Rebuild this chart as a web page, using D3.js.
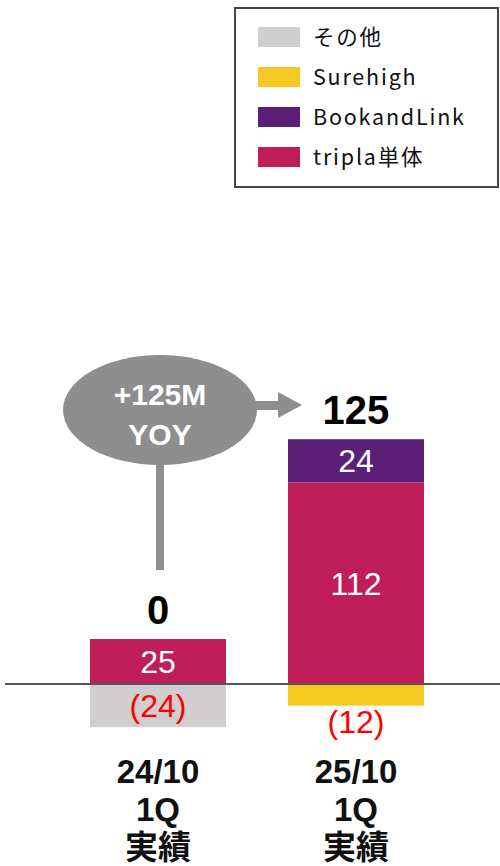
<!DOCTYPE html>
<html>
<head>
<meta charset="utf-8">
<script src="https://cdn.jsdelivr.net/npm/d3@7"></script>
<style>
  body { margin: 0; background: #fff; }
  svg { display: block; }
</style>
</head>
<body>
<div id="chart"></div>
<script>
// chart data
var categories = ["24/10", "25/10"];
var catLines = [["24/10", "1Q", "実績"], ["25/10", "1Q", "実績"]];
var seriesNames = ["その他", "Surehigh", "BookandLink", "tripla単体"];
var seriesColors = ["#D0CECF", "#F5C922", "#5C1F76", "#C01E58"];
var sonota = [-24, 0];
var surehigh = [0, -12];
var bookandlink = [0, 24];
var triplaSolo = [25, 112];
var totals = [0, 125];
var yoyText = ["+125M", "YOY"];

var width = 500, height = 866;

var svg = d3.select("#chart").append("svg")
  .attr("width", width)
  .attr("height", height);

var x = d3.scaleBand()
  .domain(categories)
  .range([90, 424])
  .paddingInner(0.313)
  .paddingOuter(0);

var y = d3.scaleLinear()
  .domain([-30, 140])
  .range([738, 432]);

// stack positives up from 0, negatives down from 0
var seriesVals = [sonota, surehigh, bookandlink, triplaSolo];
var order = [3, 2, 0, 1]; // tripla first on the positive side
var segs = [];
categories.forEach(function(c, i) {
  var pos = 0, neg = 0;
  order.forEach(function(s) {
    var v = seriesVals[s][i];
    if (v === 0) return;
    var y0, y1;
    if (v > 0) { y0 = pos; y1 = pos + v; pos = y1; }
    else { y0 = neg; y1 = neg + v; neg = y1; }
    segs.push({cat: c, i: i, s: s, v: v, y0: y0, y1: y1});
  });
});

svg.selectAll(".seg")
  .data(segs)
  .enter().append("rect")
  .attr("class", "seg")
  .attr("x", function(d) { return x(d.cat); })
  .attr("width", x.bandwidth())
  .attr("y", function(d) { return y(Math.max(d.y0, d.y1)); })
  .attr("height", function(d) { return Math.abs(y(d.y0) - y(d.y1)); })
  .attr("fill", function(d) { return seriesColors[d.s]; });

// segment labels
svg.selectAll(".seglabel")
  .data(segs)
  .enter().append("text")
  .attr("class", "seglabel")
  .attr("x", function(d) { return x(d.cat) + x.bandwidth() / 2; })
  .attr("y", function(d) {
    var h = Math.abs(y(d.y0) - y(d.y1));
    if (d.v < 0 && h < 30) return y(d.y1) + 27;
    return (y(d.y0) + y(d.y1)) / 2 + 11.5;
  })
  .attr("text-anchor", "middle")
  .style("font-family", "'Liberation Sans', Arial, sans-serif")
  .style("font-size", "32px")
  .style("fill", function(d) { return d.v < 0 ? "#FF0000" : "#fff"; })
  .text(function(d) { return d.v < 0 ? "(" + (-d.v) + ")" : d.v; });

// totals
svg.selectAll(".total")
  .data(totals)
  .enter().append("text")
  .attr("class", "total")
  .attr("x", function(d, i) { return x(categories[i]) + x.bandwidth() / 2; })
  .attr("y", function(d, i) {
    var top = 0;
    segs.forEach(function(s) { if (s.i === i) top = Math.max(top, s.y0, s.y1); });
    return y(top) - 15;
  })
  .attr("text-anchor", "middle")
  .style("font-family", "'Liberation Sans', Arial, sans-serif")
  .style("font-weight", "bold")
  .style("font-size", "40px")
  .style("fill", "#000")
  .text(function(d) { return d; });

// zero line
svg.append("line")
  .attr("x1", 5).attr("x2", 500)
  .attr("y1", y(0)).attr("y2", y(0))
  .attr("stroke", "#555")
  .attr("stroke-width", 2);

// category labels
var cat = svg.selectAll(".cat")
  .data(catLines)
  .enter().append("text")
  .attr("class", "cat")
  .attr("text-anchor", "middle")
  .style("font-family", "'Liberation Sans', 'Noto Sans CJK JP', sans-serif")
  .style("font-weight", "bold")
  .style("font-size", "33px")
  .style("fill", "#111");
cat.selectAll("tspan")
  .data(function(d, i) { return d.map(function(t) { return {t: t, i: i}; }); })
  .enter().append("tspan")
  .attr("x", function(d) { return x(categories[d.i]) + x.bandwidth() / 2; })
  .attr("y", function(d, j) { return 783 + j * 38; })
  .text(function(d) { return d.t; });

// YOY bubble
var bubble = svg.append("g").attr("fill", "#8E8E8E");
bubble.append("rect")
  .attr("x", 156).attr("y", 450)
  .attr("width", 8).attr("height", 120);
bubble.append("ellipse")
  .attr("cx", 160).attr("cy", 410)
  .attr("rx", 97).attr("ry", 55);
bubble.append("path")
  .attr("d", "M250,401 L278,401 L278,392 L302,405 L278,418 L278,410 L250,410 Z");
bubble.selectAll("text")
  .data(yoyText)
  .enter().append("text")
  .attr("x", 160)
  .attr("y", function(d, i) { return 405 + i * 40; })
  .attr("text-anchor", "middle")
  .style("font-family", "'Liberation Sans', Arial, sans-serif")
  .style("font-weight", "bold")
  .style("font-size", "30px")
  .style("fill", "#fff")
  .text(function(d) { return d; });

// legend
var legend = svg.append("g");
legend.append("rect")
  .attr("x", 235).attr("y", 8)
  .attr("width", 263).attr("height", 179)
  .attr("fill", "#fff")
  .attr("stroke", "#444")
  .attr("stroke-width", 2);
var item = legend.selectAll(".item")
  .data(seriesNames)
  .enter().append("g")
  .attr("class", "item")
  .attr("transform", function(d, i) { return "translate(258," + (27 + i * 40) + ")"; });
item.append("rect")
  .attr("width", 42).attr("height", 20)
  .attr("fill", function(d, i) { return seriesColors[i]; });
item.append("text")
  .attr("x", 55).attr("y", 18)
  .style("font-family", "'Noto Sans CJK JP', sans-serif")
  .style("font-size", "21.5px")
  .style("letter-spacing", "1.8px")
  .style("fill", "#111")
  .text(function(d) { return d; });
</script>
</body>
</html>
